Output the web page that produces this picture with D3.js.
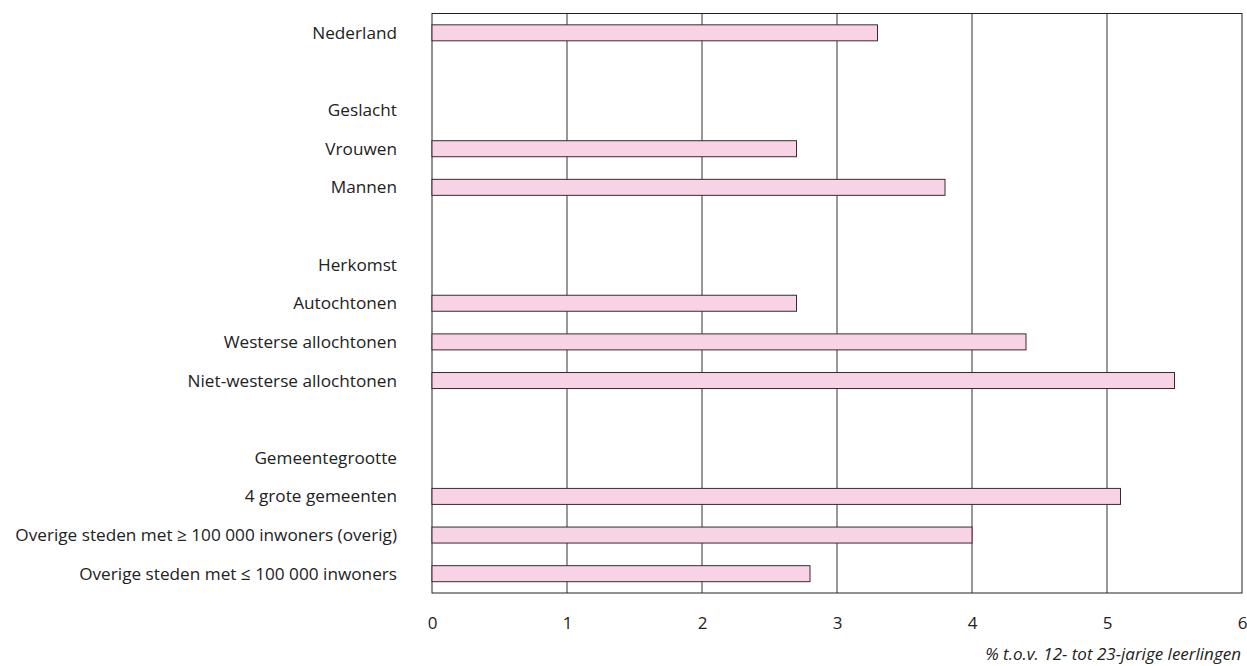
<!DOCTYPE html>
<html><head><meta charset="utf-8">
<script src="https://cdn.jsdelivr.net/npm/d3@7"></script>
<style>body{margin:0;background:#fff;} text{font-family:"Open Sans",sans-serif;}</style>
</head><body>
<svg id="c" width="1247" height="666"></svg>
<script>
const categories = ["Nederland","","Geslacht","Vrouwen","Mannen","","Herkomst","Autochtonen","Westerse allochtonen","Niet-westerse allochtonen","","Gemeentegrootte","4 grote gemeenten","Overige steden met ≥ 100 000 inwoners (overig)","Overige steden met ≤ 100 000 inwoners"];
const values = [3.3,null,null,2.7,3.8,null,null,2.7,4.4,5.5,null,null,5.1,4.0,2.8];
const xTicks = [0,1,2,3,4,5,6];
const axisTitle = "% t.o.v. 12- tot 23-jarige leerlingen";

const svg = d3.select("#c");
const L=432, R=1242, T=13.5, B=593;
const x = d3.scaleLinear().domain([0,6]).range([L,R]);
const y = d3.scaleBand().domain(d3.range(categories.length)).range([T,B]);

// grid
svg.append("g").selectAll("line").data(xTicks.slice(1,-1)).join("line")
  .attr("x1",d=>x(d)).attr("x2",d=>x(d)).attr("y1",T).attr("y2",B)
  .attr("stroke","#333").attr("stroke-width",1);
// frame
svg.append("rect").attr("x",L).attr("y",T).attr("width",R-L).attr("height",B-T)
  .attr("fill","none").attr("stroke","#222").attr("stroke-width",1);

// bars
const bh=16;
svg.append("g").selectAll("rect").data(values.map((v,i)=>({v,i})).filter(d=>d.v!=null)).join("rect")
  .attr("x",x(0)).attr("y",d=>y(d.i)+y.bandwidth()/2-bh/2)
  .attr("width",d=>x(d.v)-x(0)).attr("height",bh)
  .attr("fill","#f8d3e5").attr("stroke","#3a2a30").attr("stroke-width",1);

// labels
svg.append("g").selectAll("text").data(categories).join("text")
  .attr("x",397).attr("y",(d,i)=>y(i)+y.bandwidth()/2).attr("dy","0.35em")
  .attr("text-anchor","end").attr("font-size",17.2).attr("fill","#222").text(d=>d);

// x axis tick labels
const ax = svg.append("g").attr("transform",`translate(0,${B})`)
  .call(d3.axisBottom(x).tickValues(xTicks).tickFormat(d3.format("d")).tickSize(0).tickPadding(24));
ax.select(".domain").remove();
ax.selectAll("text").attr("font-size",17).attr("fill","#222").style("font-family","'Open Sans',sans-serif");

svg.append("text").attr("x",1241).attr("y",660).attr("text-anchor","end")
  .attr("font-size",17).attr("font-style","italic").attr("fill","#222").text(axisTitle);
</script>
</body></html>
